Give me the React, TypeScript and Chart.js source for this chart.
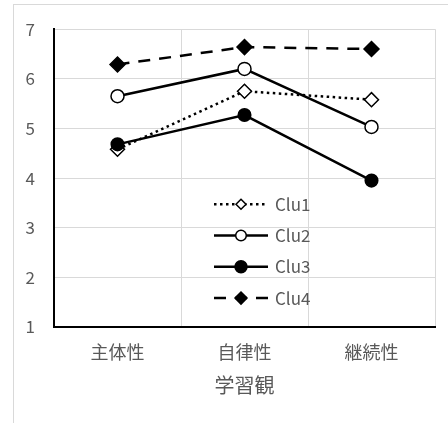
import React, { useEffect, useRef } from 'react';
import { Chart, registerables } from 'chart.js';

Chart.register(...registerables);

const categories = ['主体性', '自律性', '継続性'];
const seriesNames = ['Clu1', 'Clu2', 'Clu3', 'Clu4'];
const clu1 = [4.58, 5.75, 5.58];
const clu2 = [5.65, 6.2, 5.03];
const clu3 = [4.68, 5.27, 3.95];
const clu4 = [6.29, 6.64, 6.6];
const yMin = 1;
const yMax = 7;
const axisTitle = '学習観';

const FONT_FAMILY = '"Noto Sans CJK JP", "Noto Sans", sans-serif';
const TEXT_COLOR = '#595959';
const GRID_COLOR = '#d9d9d9';

type Style = {
  dash: number[];
  pointStyle: string;
  fill: string;
  radius: number;
  legendRadius: number;
};

const styles: Style[] = [
  { dash: [2.5, 3.5], pointStyle: 'rectRot', fill: '#ffffff', radius: 7, legendRadius: 5 },
  { dash: [], pointStyle: 'circle', fill: '#ffffff', radius: 6.5, legendRadius: 5.3 },
  { dash: [], pointStyle: 'circle', fill: '#000000', radius: 6.3, legendRadius: 6 },
  { dash: [12, 9], pointStyle: 'rectRot', fill: '#000000', radius: 7.5, legendRadius: 6 },
];

const legendPlugin = {
  id: 'inlineLegend',
  afterDatasetsDraw(chart: any) {
    const ctx = chart.ctx as CanvasRenderingContext2D;
    const a = chart.chartArea;
    const x0 = a.left + 160;
    const y0 = a.top + 175;
    const gap = 31.3;
    const len = 54;
    chart.data.datasets.forEach((ds: any, i: number) => {
      const st = styles[i];
      const y = y0 + i * gap;
      ctx.save();
      ctx.strokeStyle = '#000';
      ctx.lineWidth = 2.5;
      ctx.setLineDash(st.dash);
      ctx.beginPath();
      ctx.moveTo(x0, y);
      ctx.lineTo(x0 + len, y);
      ctx.stroke();
      ctx.setLineDash([]);
      const cx = x0 + len / 2;
      const r = st.legendRadius;
      ctx.beginPath();
      if (st.pointStyle === 'circle') {
        ctx.arc(cx, y, r, 0, Math.PI * 2);
      } else {
        ctx.moveTo(cx, y - r);
        ctx.lineTo(cx + r, y);
        ctx.lineTo(cx, y + r);
        ctx.lineTo(cx - r, y);
        ctx.closePath();
      }
      ctx.fillStyle = st.fill;
      ctx.fill();
      ctx.lineWidth = 1.5;
      ctx.stroke();
      ctx.fillStyle = TEXT_COLOR;
      ctx.font = `17px ${FONT_FAMILY}`;
      ctx.textBaseline = 'middle';
      ctx.textAlign = 'left';
      ctx.fillText(ds.label, x0 + len + 7, y);
      ctx.restore();
    });
  },
};

export default function App() {
  const canvasRef = useRef<HTMLCanvasElement | null>(null);

  useEffect(() => {
    const canvas = canvasRef.current;
    if (!canvas) return;
    const values = [clu1, clu2, clu3, clu4];
    const chart = new Chart(canvas, {
      type: 'line',
      data: {
        labels: categories,
        datasets: values.map((v, i) => ({
          label: seriesNames[i],
          data: v,
          borderColor: '#000000',
          borderWidth: 2.5,
          borderDash: styles[i].dash,
          pointStyle: styles[i].pointStyle as any,
          pointRadius: styles[i].radius,
          pointBackgroundColor: styles[i].fill,
          pointBorderColor: '#000000',
          pointBorderWidth: 1.5,
          tension: 0,
          fill: false,
          order: 4 - i,
        })),
      },
      options: {
        responsive: false,
        animation: false,
        events: [],
        layout: { padding: { top: 28, right: 13, left: 0, bottom: 0 } },
        plugins: {
          legend: { display: false },
          tooltip: { enabled: false },
        },
        scales: {
          x: {
            type: 'category',
            offset: true,
            grid: { offset: true, color: GRID_COLOR, lineWidth: 1, drawTicks: false },
            border: { color: '#000000', width: 2 },
            ticks: { color: TEXT_COLOR, font: { family: FONT_FAMILY, size: 18 }, padding: 14 },
            title: {
              display: true,
              text: axisTitle,
              color: TEXT_COLOR,
              font: { family: FONT_FAMILY, size: 20 },
              padding: { top: 0, bottom: 26 },
            },
            afterFit: (s: any) => {
              s.height = 96;
            },
          },
          y: {
            min: yMin,
            max: yMax,
            grid: { color: GRID_COLOR, lineWidth: 1, drawTicks: false },
            border: { color: '#000000', width: 2 },
            ticks: {
              stepSize: 1,
              color: TEXT_COLOR,
              font: { family: FONT_FAMILY, size: 17 },
              padding: 19,
            },
            afterFit: (s: any) => {
              s.width = 54;
            },
          },
        },
      },
      plugins: [legendPlugin],
    });
    return () => chart.destroy();
  }, []);

  return (
    <div style={{ position: 'absolute', left: 0, top: 0, width: 448, height: 423, overflow: 'hidden', background: '#fff' }}>
      <div
        style={{
          position: 'absolute',
          left: 13,
          top: 4,
          width: 460,
          height: 440,
          border: '1px solid #d9d9d9',
          boxSizing: 'border-box',
        }}
      />
      <canvas ref={canvasRef} width={448} height={423} style={{ position: 'absolute', left: 0, top: 0 }} />
    </div>
  );
}
